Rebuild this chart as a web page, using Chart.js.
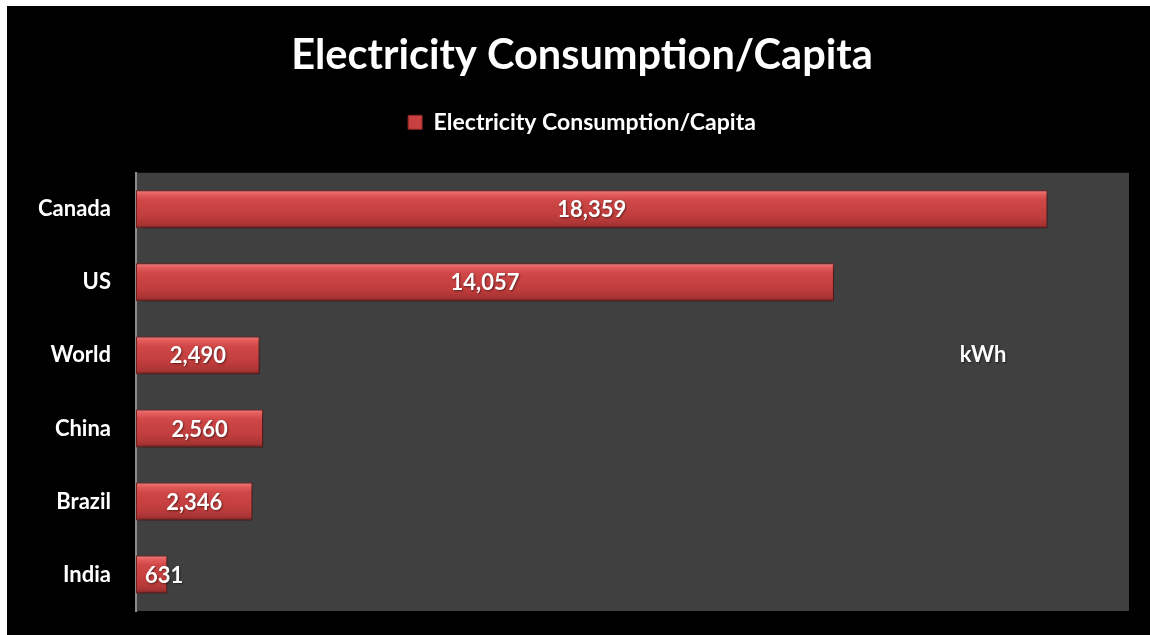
<!DOCTYPE html>
<html lang="en">
<head>
    <meta charset="UTF-8">
    <title>Electricity Consumption/Capita</title>
    <script src="https://cdn.jsdelivr.net/npm/chart.js"></script>
    <style>
        html, body { margin: 0; padding: 0; background: #fff; }
        #wrap { position: absolute; left: 7px; top: 6px; width: 1143px; height: 629px; background: #000; }
    </style>
</head>
<body>
    <div id="wrap"><canvas id="elecChart"></canvas></div>

    <script>
        // chart data
        const countries = ['Canada', 'US', 'World', 'China', 'Brazil', 'India'];
        const kwhPerCapita = [18359, 14057, 2490, 2560, 2346, 631];
        const seriesName = 'Electricity Consumption/Capita';
        const unitNote = 'kWh';

        const FONT = 'Lato, "Open Sans", sans-serif';

        // red bevel-ish gradient per bar
        function barFill(context) {
            const chart = context.chart;
            const yScale = chart.scales.y;
            if (!yScale || context.dataIndex === undefined) return '#c43c3c';
            const cy = yScale.getPixelForValue(context.dataIndex);
            if (!isFinite(cy)) return '#c43c3c';
            const half = 19;
            const g = chart.ctx.createLinearGradient(0, cy - half, 0, cy + half);
            g.addColorStop(0, '#f07a7a');
            g.addColorStop(0.12, '#e25a5a');
            g.addColorStop(0.25, '#d04848');
            g.addColorStop(0.7, '#c03c3c');
            g.addColorStop(0.9, '#a83434');
            g.addColorStop(1, '#7a2020');
            return g;
        }

        const backdrop = {
            id: 'backdrop',
            beforeDraw(chart) {
                const { ctx, chartArea: a } = chart;
                ctx.save();
                ctx.fillStyle = '#404040';
                ctx.fillRect(a.left, a.top, a.right - a.left, a.bottom - a.top);
                ctx.restore();
            },
            beforeDatasetsDraw(chart) {
                chart.ctx.save();
                chart.ctx.shadowColor = 'rgba(0,0,0,0.45)';
                chart.ctx.shadowBlur = 6;
                chart.ctx.shadowOffsetX = 3;
                chart.ctx.shadowOffsetY = 3;
            },
            afterDatasetsDraw(chart) {
                chart.ctx.restore();
            }
        };

        const valueLabels = {
            id: 'valueLabels',
            afterDatasetsDraw(chart) {
                const { ctx, chartArea: a } = chart;
                const meta = chart.getDatasetMeta(0);
                ctx.save();
                ctx.font = 'bold 22px ' + FONT;
                ctx.fillStyle = '#fff';
                ctx.textBaseline = 'middle';
                ctx.textAlign = 'center';
                ctx.shadowColor = 'rgba(0,0,0,0.5)';
                ctx.shadowBlur = 2;
                ctx.shadowOffsetX = 1;
                ctx.shadowOffsetY = 1;
                meta.data.forEach((bar, i) => {
                    const txt = kwhPerCapita[i].toLocaleString('en-US');
                    const w = ctx.measureText(txt).width;
                    let x = (bar.base + bar.x) / 2;
                    x = Math.max(x, bar.base + 9 + w / 2);
                    ctx.fillText(txt, x, bar.y + 1);
                });
                // unit note, beside the World row
                const ys = chart.scales.y;
                ctx.fillText(unitNote, a.left + 847, ys.getPixelForValue(2));
                ctx.restore();
            }
        };

        const ctx = document.getElementById('elecChart').getContext('2d');
        new Chart(ctx, {
            type: 'bar',
            data: {
                labels: countries,
                datasets: [{
                    label: seriesName,
                    data: kwhPerCapita,
                    backgroundColor: barFill,
                    borderColor: '#7e2222',
                    borderWidth: 1,
                    borderSkipped: false,
                    categoryPercentage: 1,
                    barPercentage: 0.52
                }]
            },
            options: {
                indexAxis: 'y',
                responsive: true,
                maintainAspectRatio: false,
                animation: false,
                layout: { padding: { left: 28, right: 21, top: 0, bottom: 24 } },
                scales: {
                    x: {
                        display: false,
                        min: 0,
                        max: 20000
                    },
                    y: {
                        grid: { display: false },
                        border: { display: true, color: '#8c8c8c', width: 2 },
                        ticks: {
                            color: '#fff',
                            padding: 17,
                            font: { family: FONT, size: 22, weight: 'bold' }
                        },
                        afterFit(scale) {
                            scale.width = 101;
                            scale.paddingTop = 0;
                            scale.paddingBottom = 0;
                        }
                    }
                },
                plugins: {
                    title: {
                        display: true,
                        text: 'Electricity Consumption/Capita',
                        color: '#fff',
                        font: { family: FONT, size: 41.5, weight: 'bold' },
                        padding: { top: 25, bottom: 6 }
                    },
                    legend: {
                        display: true,
                        labels: {
                            color: '#fff',
                            boxWidth: 14,
                            boxHeight: 14,
                            padding: 24,
                            font: { family: FONT, size: 23, weight: 'bold' },
                            generateLabels(chart) {
                                return Chart.defaults.plugins.legend.labels.generateLabels(chart).map(item => {
                                    item.fillStyle = '#c84040';
                                    item.strokeStyle = '#8a2424';
                                    item.lineWidth = 1;
                                    return item;
                                });
                            }
                        }
                    },
                    // empty spacer placed below the legend
                    subtitle: {
                        display: true,
                        text: '',
                        weight: 500,
                        font: { size: 1, lineHeight: 1 },
                        padding: { top: 28, bottom: 0 }
                    },
                    tooltip: { enabled: false }
                }
            },
            plugins: [backdrop, valueLabels]
        });
    </script>
</body>
</html>
